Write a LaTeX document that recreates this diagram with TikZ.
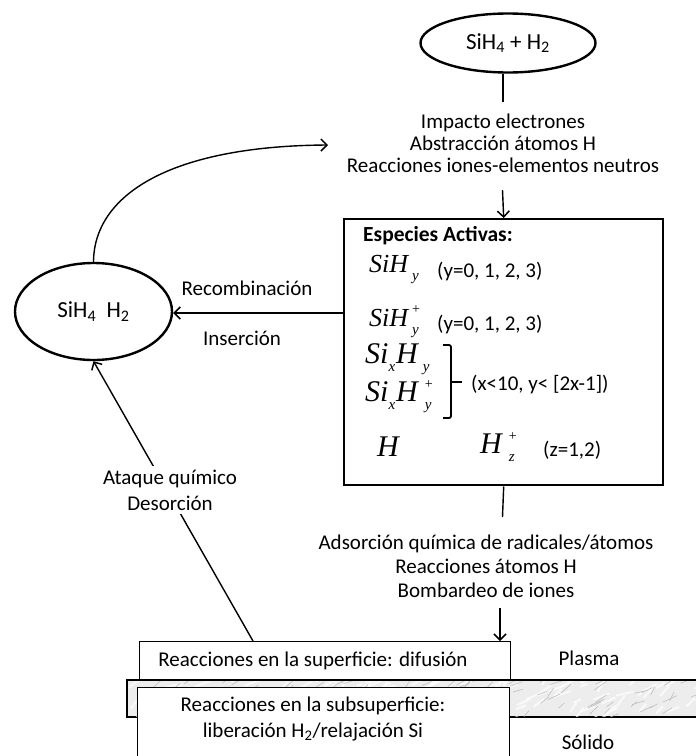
\documentclass[tikz,border=0pt]{standalone}
\usepackage{fontspec}
\setmainfont{Carlito}
\newfontfamily\tms{Liberation Serif}
\usetikzlibrary{arrows.meta,shapes.geometric}
\newcommand{\mysub}[1]{\raisebox{-8pt}{\fontsize{15}{15}\selectfont #1}}
\newcommand{\mysubsup}[2]{\rlap{\raisebox{13pt}{\fontsize{14}{14}\selectfont\upshape #2}}\raisebox{-8pt}{\fontsize{15}{15}\selectfont #1}}
\begin{document}
\begin{tikzpicture}[x=1pt,y=-1pt,
  txt/.style={font=\fontsize{21}{22}\selectfont, inner sep=0pt, align=center},
  ovaltxt/.style={font=\fontsize{23}{24}\selectfont},
  spec/.style={font=\tms\itshape\fontsize{26}{26}\selectfont, inner sep=0pt, anchor=west},
  specbig/.style={font=\tms\itshape\fontsize{30}{30}\selectfont, inner sep=0pt, anchor=west},
  arr/.style={-{Straight Barb[length=6pt,width=12pt,line width=1.5pt]}, line width=1.4pt},
  conn/.style={line width=1.4pt},
  oval/.style={draw, ellipse, line width=2.4pt, inner sep=0pt, align=center},
  layerbox/.style={draw, line width=1pt, fill=white, inner sep=0pt, anchor=north west}]
\useasboundingbox (0,0) rectangle (696,756);

% top ellipse
\node[oval, minimum width=175pt, minimum height=59pt, ovaltxt] (top) at (508,43) {SiH\textsubscript{4} + H\textsubscript{2}};
\coordinate (t1) at (503,102);
\draw[conn] (top.south -| t1) -- (t1);

\node[txt] (proc1) at (503,143) {Impacto electrones\\Abstracción átomos H\\Reacciones iones-elementos neutros};
\coordinate (a1) at (502.5,190);

% main box
\node[draw, line width=2.4pt, minimum width=319pt, minimum height=266pt, anchor=north west, inner sep=0pt] (box) at (343,218) {};
\draw[arr] (a1) -- (box.north);

\node[txt, anchor=west, font=\bfseries\fontsize{21.5}{22}\selectfont] (head) at (363,236) {Especies Activas:};
\node[spec] (r1) at (369,270) {SiH\kern4pt\mysub{y}};
\node[txt, anchor=west] (r1t) at (437,272) {(y=0, 1, 2, 3)};
\node[spec] (r2) at (369,322) {SiH\kern4pt\mysubsup{y}{+}};
\node[txt, anchor=west] (r2t) at (437,325) {(y=0, 1, 2, 3)};
\node[specbig] (r3) at (365,359) {Si\mysub{x}\kern1pt H\kern5pt\mysub{y}};
\node[specbig] (r4) at (365,397) {Si\mysub{x}\kern1pt H\kern7pt\mysubsup{y}{+}};
\coordinate (br1) at (443,345);
\coordinate (br2) at (443,418);
\draw[line width=1.8pt, rounded corners=2pt] (br1) -- ++(8,0) -- ++(0,73) -- (br2);
\coordinate (brm) at (451,382);
\coordinate (brt) at (462,382);
\draw[line width=1.8pt] (brm) -- (brt);
\node[txt, anchor=west] (r34t) at (471,385) {(x<10, y< [2x-1])};
\node[specbig] (h1) at (377,447) {H};
\node[specbig] (h2) at (480,447) {H\kern7pt\mysubsup{z}{+}};
\node[txt, anchor=west] (h2t) at (543,450) {(z=1,2)};

% left ellipse
\node[oval, minimum width=157pt, minimum height=97pt, ovaltxt] (left) at (93.5,311.5) {SiH\textsubscript{4}\ \ H\textsubscript{2}};
\coordinate (b1) at (343,313);
\draw[arr] (b1) -- (left.east |- b1);
\node[txt] (rec) at (247,288) {Recombinación};
\node[txt] (ins) at (242,338) {Inserción};

\coordinate (c1) at (328,145);
\draw[arr] (left.north) .. controls (94,195) and (170,146) .. (c1);

% lower connector and labels
\coordinate (c2) at (502.5,517);
\draw[conn] (box.south) -- (c2);
\node[txt, font=\fontsize{21}{24}\selectfont] (proc2) at (486,566) {Adsorción química de radicales/átomos\\Reacciones átomos H\\Bombardeo de iones};

% solid band with marble texture
\path[draw, line width=2.6pt, fill=gray!14] (127,680) rectangle (702,717);
\begin{scope}
\clip (128,681) rectangle (702,716);
\pgfmathsetseed{7}
\foreach \i in {1,...,160} {
  \pgfmathsetmacro\xx{127+575*rnd}
  \pgfmathsetmacro\yy{680+40*rnd}
  \pgfmathsetmacro\dx{5+12*rnd}
  \pgfmathsetmacro\dy{3+7*rnd}
  \draw[white, line width=2pt, opacity=0.7] (\xx,\yy) -- ++(\dx,-\dy);
}
\foreach \i in {1,...,140} {
  \pgfmathsetmacro\xx{127+575*rnd}
  \pgfmathsetmacro\yy{680+40*rnd}
  \pgfmathsetmacro\dx{4+10*rnd}
  \pgfmathsetmacro\dy{3+6*rnd}
  \draw[gray!50, line width=0.6pt] (\xx,\yy) -- ++(\dx,-\dy);
}
\end{scope}

\node[layerbox, minimum width=372pt, minimum height=75pt] (sub) at (137,687) {};
\node[txt, font=\fontsize{21}{26}\selectfont] (subt) at (313,719) {Reacciones en la subsuperficie:\\liberación H\textsubscript{2}/relajación Si};

\node[layerbox, minimum width=371pt, minimum height=38pt] (surf) at (139,641) {};
\node[txt] (surft) at (313,661) {Reacciones en la superficie: difusión};

\coordinate (a2) at (500,608);
\draw[arr] (a2) -- (a2 |- surf.north);

\node[txt] (plasma) at (589,658) {Plasma};
\node[txt] (solido) at (588,742) {Sólido};

\coordinate (s1) at (253,641);
\draw[arr] (s1) -- (left.south);
\node[txt, fill=white, inner sep=4pt, font=\fontsize{21}{26}\selectfont] (ataq) at (170,490) {Ataque químico\\Desorción};
\end{tikzpicture}
\end{document}
